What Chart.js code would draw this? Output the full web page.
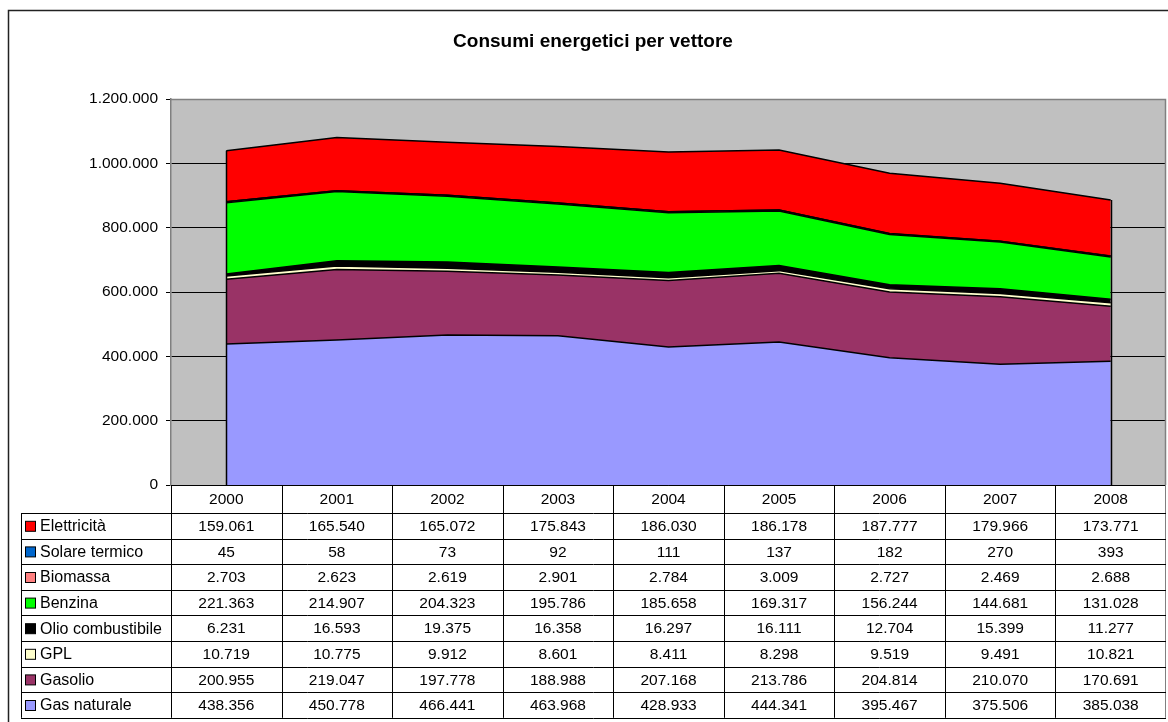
<!DOCTYPE html>
<html>
<head>
<meta charset="utf-8">
<script src="https://cdn.jsdelivr.net/npm/chart.js@4/dist/chart.umd.min.js"></script>
<style>
  html, body { margin: 0; padding: 0; background: #fff; }
  #wrap { width: 1168px; height: 722px; position: relative; }
</style>
</head>
<body>
<div id="wrap"><canvas id="c" width="1168" height="722"></canvas></div>
<script>
const TITLE = 'Consumi energetici per vettore';
const years = ['2000','2001','2002','2003','2004','2005','2006','2007','2008'];
const yTicks = [0, 200000, 400000, 600000, 800000, 1000000, 1200000];

const gasNaturale      = [438356, 450778, 466441, 463968, 428933, 444341, 395467, 375506, 385038];
const gasolio          = [200955, 219047, 197778, 188988, 207168, 213786, 204814, 210070, 170691];
const gpl              = [10719, 10775, 9912, 8601, 8411, 8298, 9519, 9491, 10821];
const olioCombustibile = [6231, 16593, 19375, 16358, 16297, 16111, 12704, 15399, 11277];
const benzina          = [221363, 214907, 204323, 195786, 185658, 169317, 156244, 144681, 131028];
const biomassa         = [2703, 2623, 2619, 2901, 2784, 3009, 2727, 2469, 2688];
const solareTermico    = [45, 58, 73, 92, 111, 137, 182, 270, 393];
const elettricita      = [159061, 165540, 165072, 175843, 186030, 186178, 187777, 179966, 173771];

// stack order bottom -> top
const seriesNames  = ['Gas naturale','Gasolio','GPL','Olio combustibile','Benzina','Biomassa','Solare termico','Elettricità'];
const seriesData   = [gasNaturale, gasolio, gpl, olioCombustibile, benzina, biomassa, solareTermico, elettricita];
const seriesColors = ['#9999FF','#993366','#FFFFCC','#000000','#00FF00','#FF8080','#0066CC','#FF0000'];

const FONT = '"Liberation Sans", Arial, sans-serif';
const TXT = 15.5;
const fmt = v => v.toString().replace(/\B(?=(\d{3})+(?!\d))/g, '.');

const datasets = seriesNames.map((n, i) => ({
  label: n,
  data: seriesData[i],
  backgroundColor: seriesColors[i],
  borderColor: '#000000',
  borderWidth: 1.5,
  pointRadius: 0,
  pointHoverRadius: 0,
  tension: 0,
  fill: i === 0 ? 'origin' : '-1'
}));

const decor = {
  id: 'decor',
  beforeDraw(chart) {
    const {ctx, chartArea: a} = chart;
    ctx.save();
    ctx.fillStyle = '#fff';
    ctx.fillRect(0, 0, chart.width, chart.height);
    // outer frame
    ctx.strokeStyle = '#222';
    ctx.lineWidth = 1.5;
    ctx.strokeRect(8.5, 10.5, 1200, 800);
    // plot background
    ctx.fillStyle = '#C0C0C0';
    ctx.fillRect(a.left, a.top, a.right - a.left, a.bottom - a.top);
    // title
    ctx.fillStyle = '#000';
    ctx.font = 'bold 19px ' + FONT;
    ctx.textAlign = 'center';
    ctx.textBaseline = 'middle';
    ctx.fillText(TITLE, 593, 42);
    ctx.restore();
  },
  afterDatasetsDraw(chart) {
    const {ctx, chartArea: a, scales: {x, y}} = chart;
    ctx.save();
    // plot area border (top, right)
    ctx.strokeStyle = '#808080';
    ctx.lineWidth = 1.5;
    ctx.beginPath();
    ctx.moveTo(a.left, a.top + 0.5);
    ctx.lineTo(a.right - 0.5, a.top + 0.5);
    ctx.lineTo(a.right - 0.5, a.bottom);
    ctx.stroke();
    // vertical edges of the stacked area at first and last category
    const n = years.length;
    [0, n - 1].forEach(idx => {
      let total = 0;
      seriesData.forEach(s => total += s[idx]);
      const px = Math.round(x.getPixelForValue(idx)) + 0.5;
      ctx.strokeStyle = '#000';
      ctx.lineWidth = 1.5;
      ctx.beginPath();
      ctx.moveTo(px, y.getPixelForValue(0));
      ctx.lineTo(px, y.getPixelForValue(total));
      ctx.stroke();
    });
    ctx.restore();
  },
  afterDraw(chart) {
    const {ctx, chartArea: a, scales: {x}} = chart;
    const n = years.length;
    const colW = (a.right - a.left) / n;
    const top = a.bottom;
    const headH = 28;
    const rowH = 25.6;
    const legendLeft = 21;
    const rows = seriesNames.length;
    const bottom = top + headH + rows * rowH;
    ctx.save();
    ctx.strokeStyle = '#000';
    ctx.lineWidth = 1;
    // bottom axis line
    ctx.beginPath();
    ctx.moveTo(a.left, Math.round(top) + 0.5);
    ctx.lineTo(a.right, Math.round(top) + 0.5);
    ctx.stroke();
    // vertical lines
    for (let i = 0; i <= n; i++) {
      const px = Math.round(a.left + i * colW) + 0.5 - (i === n ? 1 : 0);
      ctx.strokeStyle = (i === n) ? '#808080' : '#000';
      ctx.beginPath();
      ctx.moveTo(px, top);
      ctx.lineTo(px, bottom);
      ctx.stroke();
    }
    ctx.strokeStyle = '#000';
    // legend column left border
    ctx.beginPath();
    ctx.moveTo(legendLeft + 0.5, top + headH);
    ctx.lineTo(legendLeft + 0.5, bottom);
    ctx.stroke();
    // horizontal lines
    for (let r = 0; r <= rows; r++) {
      const py = Math.round(top + headH + r * rowH) + 0.5;
      ctx.beginPath();
      ctx.moveTo(legendLeft, py);
      ctx.lineTo(a.right, py);
      ctx.stroke();
    }
    // header text
    ctx.fillStyle = '#000';
    ctx.font = TXT + 'px ' + FONT;
    ctx.textAlign = 'center';
    ctx.textBaseline = 'middle';
    years.forEach((yr, i) => {
      ctx.fillText(yr, x.getPixelForValue(i), top + headH / 2 + 1);
    });
    // rows (top = last series)
    for (let r = 0; r < rows; r++) {
      const si = rows - 1 - r;
      const cy = top + headH + r * rowH + rowH / 2 + 1;
      // legend key
      ctx.fillStyle = seriesColors[si];
      ctx.fillRect(25.5, cy - 5.5, 10, 10);
      ctx.strokeStyle = '#000';
      ctx.lineWidth = 1;
      ctx.strokeRect(25.5, cy - 5.5, 10, 10);
      ctx.fillStyle = '#000';
      ctx.textAlign = 'left';
      ctx.font = '16px ' + FONT;
      ctx.fillText(seriesNames[si], 40, cy);
      ctx.font = TXT + 'px ' + FONT;
      ctx.textAlign = 'center';
      seriesData[si].forEach((v, i) => {
        ctx.fillText(fmt(v), x.getPixelForValue(i), cy);
      });
    }
    ctx.restore();
  }
};

new Chart(document.getElementById('c'), {
  type: 'line',
  data: { labels: years, datasets },
  plugins: [decor],
  options: {
    responsive: false,
    animation: false,
    events: [],
    layout: { padding: { left: 0, top: 99, right: 2, bottom: 237 } },
    plugins: {
      legend: { display: false },
      title: { display: false },
      tooltip: { enabled: false },
      filler: { propagate: false }
    },
    scales: {
      x: {
        type: 'category',
        display: false,
        offset: true
      },
      y: {
        stacked: true,
        min: 0,
        max: 1200000,
        afterFit(scale) { scale.width = 171; },
        afterBuildTicks(scale) { scale.ticks = yTicks.map(v => ({ value: v })); },
        border: { display: true, color: '#808080', width: 1.5 },
        grid: {
          color: ctx => (ctx.tick && ctx.tick.value === 1200000) ? '#808080' : '#000',
          lineWidth: 1,
          drawTicks: true,
          tickLength: 5,
          tickColor: '#000'
        },
        ticks: {
          color: '#000',
          font: { family: FONT, size: TXT },
          padding: 8,
          callback: v => fmt(v)
        }
      }
    }
  }
});
</script>
</body>
</html>
